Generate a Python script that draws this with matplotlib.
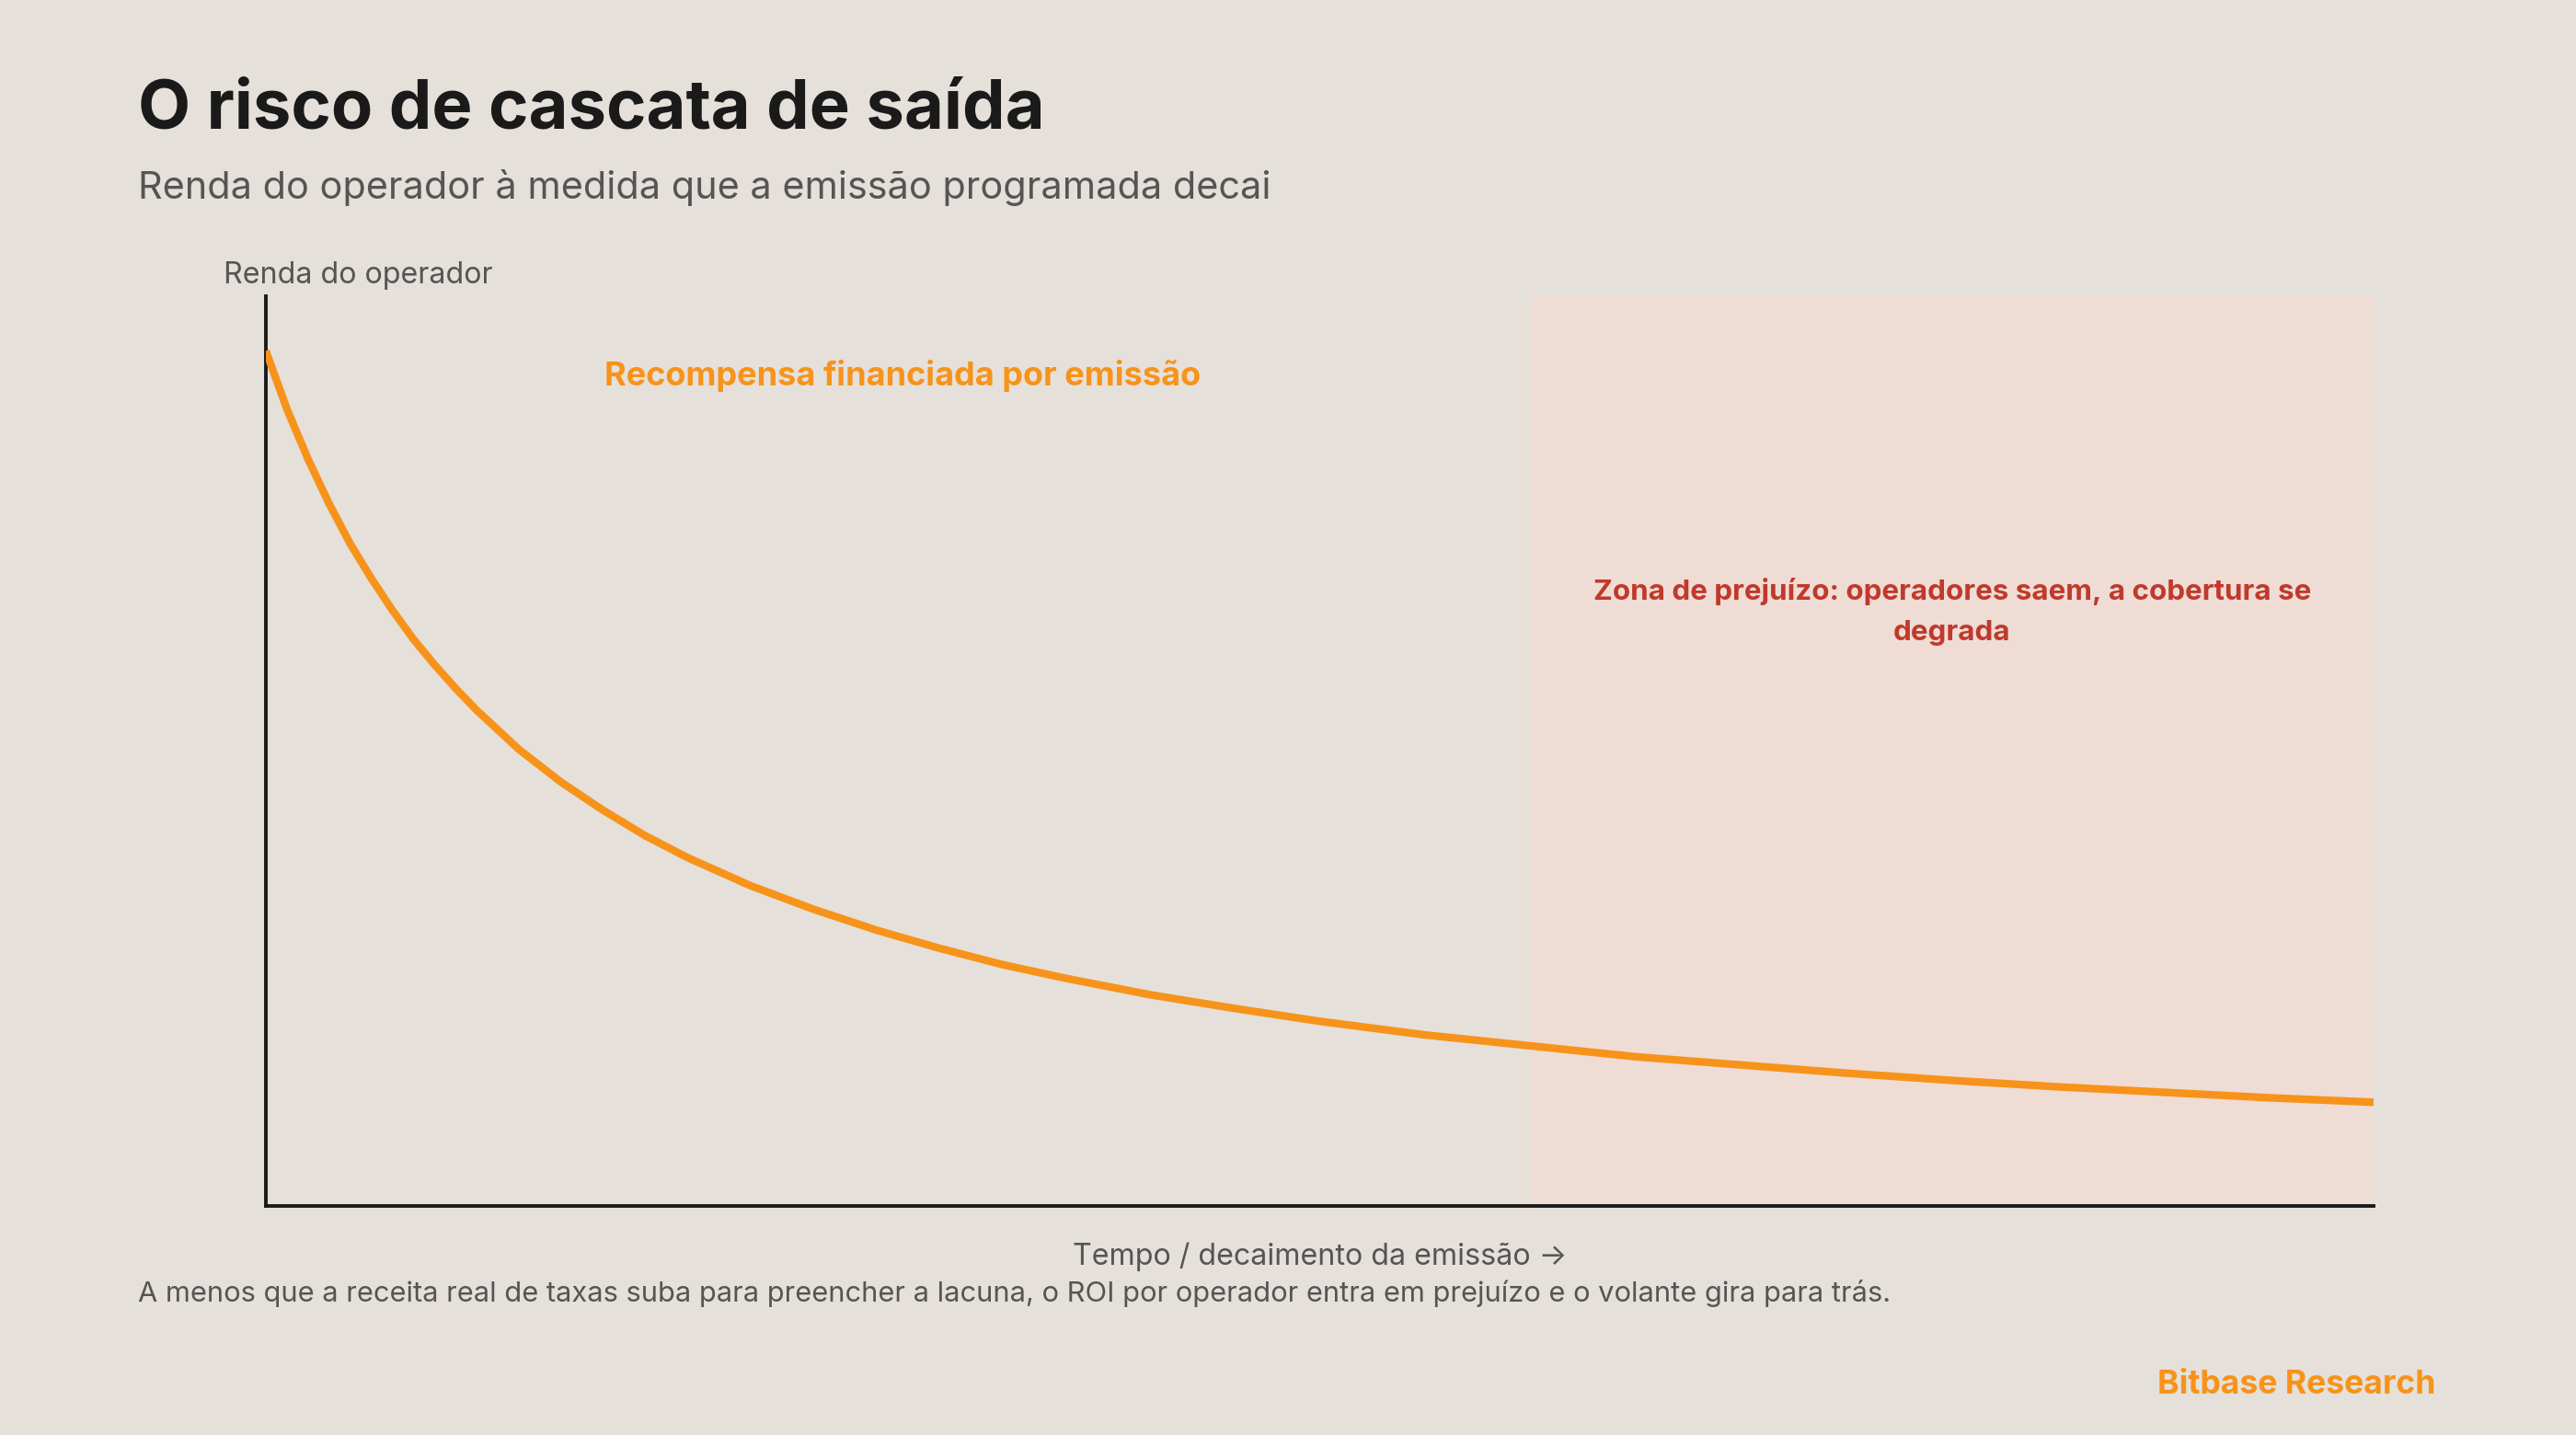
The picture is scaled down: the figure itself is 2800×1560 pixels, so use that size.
import matplotlib.pyplot as plt
from matplotlib.patches import Rectangle

# Values (time 0-100, income 0-100)
tempo = [0, 1, 2, 3, 4, 5, 6, 7, 8, 9, 10, 12, 14, 16, 18, 20, 23, 26, 29,
         32, 35, 38, 42, 46, 50, 55, 60, 65, 70, 75, 80, 85, 90, 95, 100]
renda = [94.0, 87.6, 82.1, 77.2, 72.8, 69.0, 65.5, 62.3, 59.5, 56.9, 54.5,
         50.2, 46.6, 43.5, 40.7, 38.3, 35.2, 32.6, 30.3, 28.3, 26.5, 25.0,
         23.2, 21.7, 20.3, 18.8, 17.6, 16.4, 15.5, 14.6, 13.8, 13.1, 12.5,
         11.9, 11.4]
zona_inicio = 60
zona_fim = 100

BG = '#E5E0DA'
ORANGE = '#F7931A'
ZONE = '#EFDCD5'
RED = '#C0392B'
DARK = '#1A1A1A'
GREY = '#555555'

plt.rcParams['font.family'] = ['Inter', 'DejaVu Sans']

fig = plt.figure(figsize=(14, 7.8), dpi=200, facecolor=BG)
ax = fig.add_axes([0.1032, 0.1596, 0.8182, 0.634])
ax.set_facecolor(BG)

# loss zone
ax.add_patch(Rectangle((zona_inicio, 0), zona_fim - zona_inicio, 100,
                       facecolor=ZONE, edgecolor='none', zorder=0))
ax.plot(tempo, renda, color=ORANGE, lw=3.0, solid_capstyle='butt',
        solid_joinstyle='round', zorder=3)

ax.set_xlim(0, 100)
ax.set_ylim(0, 100)
ax.set_xticks([])
ax.set_yticks([])
for s in ['top', 'right']:
    ax.spines[s].set_visible(False)
for s in ['left', 'bottom']:
    ax.spines[s].set_color(DARK)
    ax.spines[s].set_linewidth(1.4)

ax.text(30.2, 91.3, 'Recompensa financiada por emissão', color=ORANGE,
        fontsize=13, fontweight='bold', ha='center', va='center')
ax.text(80, 65.3, 'Zona de prejuízo: operadores saem, a cobertura se\ndegrada',
        color=RED, fontsize=11.3, fontweight='bold', ha='center', va='center',
        linespacing=1.75)

ax.text(50, -5.6, 'Tempo / decaimento da emissão →', color=GREY, fontsize=11.6,
        ha='center', va='center')
ax.text(4.4, 102.3, 'Renda do operador', color=GREY, fontsize=11.6,
        ha='center', va='center')

# header and footer
fig.text(0.0536, 0.923, 'O risco de cascata de saída', color=DARK,
         fontsize=26.7, fontweight='bold', ha='left', va='center')
fig.text(0.0536, 0.869, 'Renda do operador à medida que a emissão programada decai',
         color=GREY, fontsize=14.9, ha='left', va='center')
fig.text(0.0536, 0.0990, 'A menos que a receita real de taxas suba para preencher a lacuna, '
         'o ROI por operador entra em prejuízo e o volante gira para trás.',
         color=GREY, fontsize=11.1, ha='left', va='center')
fig.text(0.9457, 0.0350, 'Bitbase Research', color=ORANGE, fontsize=12.8,
         fontweight='bold', ha='right', va='center')

fig.savefig('out.png', dpi=200, facecolor=BG)
